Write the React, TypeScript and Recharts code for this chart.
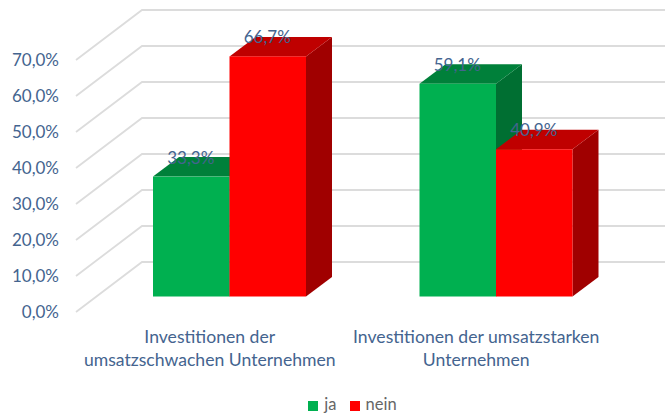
import { Bar, BarChart, LabelList, Legend, ReferenceLine, XAxis, YAxis } from "recharts";

const categoryLines = [
  ["Investitionen der", "umsatzschwachen Unternehmen"],
  ["Investitionen der umsatzstarken", "Unternehmen"],
];
const categories = ["schwach", "stark"];
const jaValues = [33.3, 59.1];
const neinValues = [66.7, 40.9];
const yTicks = [0, 10, 20, 30, 40, 50, 60, 70];

const data = categories.map((name, i) => ({
  name,
  lines: categoryLines[i],
  ja: jaValues[i],
  nein: neinValues[i],
}));

const FONT = "Lato, sans-serif";
const TEXT = "#44648f";
const DX = 26;
const DY = 19.5;

const pct = (v: number) => `${v.toFixed(1).replace(".", ",")}%`;

function makeBar(topColor: string, sideColor: string) {
  return function Bar3D(props: any) {
    const { x, y, width, height, fill } = props;
    const b = y + height;
    return (
      <g>
        <polygon points={`${x + width},${y} ${x + width + DX},${y - DY} ${x + width + DX},${b - DY} ${x + width},${b}`} fill={sideColor} />
        <polygon points={`${x},${y} ${x + DX},${y - DY} ${x + width + DX},${y - DY} ${x + width},${y}`} fill={topColor} />
        <rect x={x} y={y} width={width} height={height} fill={fill} />
      </g>
    );
  };
}

const GridShape = (props: any) => {
  const { x1, y1, x2 } = props;
  return (
    <polyline
      points={`${x1 - 20},${y1 + 15.5} ${x1 + 46},${y1 - 34.5} ${x2 + 36},${y1 - 34.5}`}
      fill="none"
      stroke="#dcdcdc"
      strokeWidth={1.8}
    />
  );
};

const YTick = (props: any) => (
  <text x={59} y={props.y + 21.5} textAnchor="end" fontFamily={FONT} fontSize={17} fill={TEXT}>
    {pct(props.payload.value)}
  </text>
);

const XTick = (props: any) => {
  const lines = categoryLines[props.index] ?? [];
  return (
    <text textAnchor="middle" fontFamily={FONT} fontSize={17.6} fill={TEXT}>
      {lines.map((line, i) => (
        <tspan key={line} x={props.x - 19.5} y={343 + i * 23}>
          {line}
        </tspan>
      ))}
    </text>
  );
};

const DataLabel = (props: any) => (
  <text x={props.x + props.width / 2 - 0.5} y={props.y - 13} textAnchor="middle" fontFamily={FONT} fontSize={17} fill={TEXT}>
    {pct(props.value)}
  </text>
);

export default function App() {
  return (
    <div style={{ position: "absolute", left: 0, top: 0 }}>
      <BarChart
        width={665}
        height={417}
        data={data}
        barSize={76.5}
        barGap={0}
        margin={{ top: 44.5, right: 36, bottom: 119.5, left: 0 }}
      >
        <XAxis dataKey="name" height={1} axisLine={false} tickLine={false} tick={XTick} interval={0} />
        <YAxis width={96} domain={[0, 70]} ticks={yTicks} axisLine={false} tickLine={false} tick={YTick} />
        {yTicks.map((t) => (
          <ReferenceLine key={t} y={t} shape={GridShape} zIndex={-100} />
        ))}
        <Bar dataKey="ja" fill="#00b050" shape={makeBar("#00803a", "#006f32")} isAnimationActive={false}>
          <LabelList dataKey="ja" content={DataLabel} />
        </Bar>
        <Bar dataKey="nein" fill="#ff0000" shape={makeBar("#bf0000", "#a00000")} isAnimationActive={false}>
          <LabelList dataKey="nein" content={DataLabel} />
        </Bar>
        <Legend
          iconType="square"
          iconSize={10}
          wrapperStyle={{ position: "absolute", top: 394, left: 302, width: 114, height: 0, fontFamily: FONT, fontSize: 16.5 }}
          formatter={(value: string) => <span style={{ color: "#666666", marginLeft: 2, marginRight: 3 }}>{value}</span>}
        />
      </BarChart>
    </div>
  );
}
